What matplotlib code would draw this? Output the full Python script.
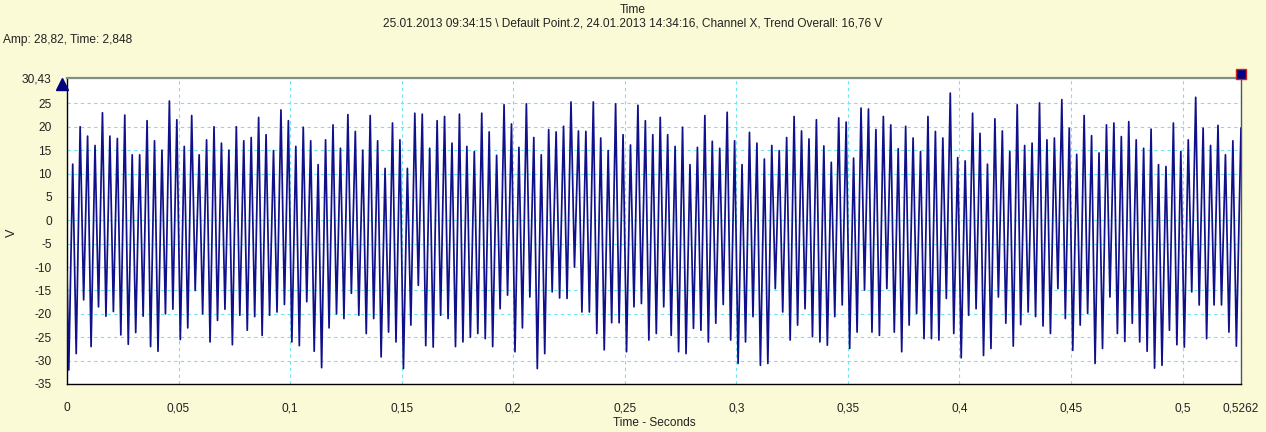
import numpy as np
import matplotlib
matplotlib.use("Agg")
import matplotlib.pyplot as plt

# ---------------- data ----------------
PERIOD_S = 1.0 / 300.0          # fundamental period of the waveform
FIRST_PEAK_T = 0.00256          # time of first positive peak (s)
TROUGH_PHASE = 0.47             # trough position within a cycle after a peak
START_V = -11.0                 # value at t = 0
END_V = 19.7                    # value at the right edge
T_END = 0.5262

peaks = [12, 20, 18, 16, 23, 18, 17.5, 22.5, 14, 14, 21.3, 17, 15, 25.5, 21.5, 15.8,
         22.4, 14, 17.2, 20, 16.5, 15, 20, 17, 17.7, 22, 18.3, 14.9, 23.6, 21.3, 15.8,
         19.9, 17, 11.9, 17.2, 20.4, 15.4, 22.6, 19, 15, 22.4, 17, 11.1, 20.8, 17.2,
         11.1, 22.9, 22.7, 15.4, 21.3, 22.2, 16.5, 22.7, 15.8, 14.7, 22.9, 18.9, 13.9,
         24.7, 20.6, 15.6, 24.9, 17.7, 14, 19.4, 18.9, 20.1, 25.3, 19.1, 19, 25.3, 17.6,
         14.9, 24.9, 18.3, 16.1, 24.6, 21.3, 18.3, 22, 18.3, 15.8, 19.9, 11.9, 15.6,
         22.4, 16.9, 15.4, 23.1, 17, 11.9, 18.8, 16.5, 13.1, 16, 14.9, 17.7, 22.2, 19.1,
         17.4, 21.5, 15.9, 12.4, 21.9, 21, 13.3, 24, 23.8, 19.4, 22.2, 20.4, 15.3, 20.1,
         17.6, 14.7, 22.2, 19, 17.6, 27.2, 13.4, 12.7, 22.9, 18.6, 12, 21.7, 19.1, 14.7,
         24.7, 16, 16.5, 25.1, 17.2, 17.6, 25.8, 19.7, 14.1, 22.4, 18.1, 14.4, 20.4,
         20.8, 17.9, 21.1, 17.2, 15.4, 19.5, 11.9, 11.5, 20.8, 14.7, 17.2, 26.3, 19.7,
         16, 20.3, 14, 17]

troughs = [-32, -28.5, -17, -27, -18.5, -20.5, -19.5, -24.5, -26.5, -24, -20.5, -27,
           -28, -20, -19, -25.5, -23, -15, -20, -26, -21.4, -19, -26.6, -20.3, -23.5,
           -20.6, -24.6, -20.3, -19.6, -18, -26, -26.8, -17.4, -28, -31.5, -23, -20,
           -21, -15.6, -20.3, -24.2, -21, -29.2, -23.9, -26, -31.7, -22.4, -13.9, -26.8,
           -27.1, -20.3, -21, -27, -26, -25, -24.2, -25.3, -27, -18.9, -16, -28.1, -23,
           -16.4, -31.7, -28.5, -15.3, -16.6, -16.7, -10, -19.6, -19.6, -24.2, -27.7,
           -21.9, -21.9, -28.1, -18.5, -17.8, -25.6, -24.2, -18.5, -24.6, -28.1, -28.5,
           -23.1, -23.5, -26, -22, -18, -25.6, -30.6, -26, -20.6, -31, -30.6, -14.6,
           -19.6, -25.6, -22.4, -18.9, -24.9, -26, -26.7, -20.6, -18.1, -27.4, -23.9,
           -14.9, -23.9, -24.6, -14.6, -23.9, -28.1, -22.4, -19.9, -25.3, -25.3, -25.6,
           -16.7, -24.2, -29.4, -20.3, -18.9, -28.9, -27.4, -16.4, -22, -26.9, -22.3,
           -19.6, -20.6, -22.6, -24.2, -14.6, -21, -27.8, -22.4, -19.9, -30.6, -27.4,
           -16.4, -24.2, -25.9, -22, -26, -28, -31.6, -31, -23.5, -26.6, -27.1, -15.3,
           -18.1, -25.3, -18.1, -18.1, -23.9, -26.9]

x_ticks = [0, 0.05, 0.1, 0.15, 0.2, 0.25, 0.3, 0.35, 0.4, 0.45, 0.5, 0.5262]
x_tick_labels = ["0", "0,05", "0,1", "0,15", "0,2", "0,25", "0,3", "0,35", "0,4",
                 "0,45", "0,5", "0,5262"]
y_ticks = [30.43, 25, 20, 15, 10, 5, 0, -5, -10, -15, -20, -25, -30, -35]
y_tick_labels = ["30,43", "25", "20", "15", "10", "5", "0", "-5", "-10", "-15",
                 "-20", "-25", "-30", "-35"]

title_1 = "Time"
title_2 = ("25.01.2013 09:34:15 \\ Default Point.2, 24.01.2013 14:34:16, "
           "Channel X, Trend Overall: 16,76 V")
cursor_text = "Amp: 28,82, Time: 2,848"
x_label = "Time - Seconds"
y_label = "V"

# ---------------- build the polyline ----------------
peak_t = FIRST_PEAK_T + np.arange(len(peaks)) * PERIOD_S
trough_t = FIRST_PEAK_T + (np.arange(len(troughs)) - 1 + TROUGH_PHASE) * PERIOD_S
t = [0.0, trough_t[0]]
v = [START_V, troughs[0]]
for i in range(len(peaks)):
    t += [peak_t[i], trough_t[i + 1]]
    v += [peaks[i], troughs[i + 1]]
t.append(T_END)
v.append(END_V)

# ---------------- figure ----------------
plt.rcParams["font.family"] = ["Liberation Sans", "DejaVu Sans"]
BG = "#FAFAD6"
TXT = "#222222"
FS = 8.6
W, H = 1266, 432
fig = plt.figure(figsize=(W / 100, H / 100), dpi=100, facecolor=BG)
ax = fig.add_axes([67 / W, 1 - 384 / H, (1241 - 67) / W, (384 - 78) / H])
ax.set_facecolor("white")

ax.plot(t, v, color="#10108a", lw=1.25, zorder=3)

ax.set_xlim(0, T_END)
ax.set_ylim(-35, 30.43)
ax.set_xticks(x_ticks)
ax.set_xticklabels(x_tick_labels)
ax.set_yticks(y_ticks)
ax.set_yticklabels(y_tick_labels)
ax.tick_params(axis="both", length=0, labelsize=FS, colors=TXT)
ax.tick_params(axis="x", pad=13)
ax.tick_params(axis="y", pad=11)
ax.grid(True, color="#70E4F2", lw=0.8, linestyle=(0, (3, 3)), zorder=1)

for s in ("left", "bottom"):
    ax.spines[s].set_color("black")
    ax.spines[s].set_linewidth(1.0)
ax.spines["top"].set_color("#7f8f8a")
ax.spines["top"].set_linewidth(1.6)
ax.spines["right"].set_color("#555555")
ax.spines["right"].set_linewidth(1.0)

fig.text(654 / W, 1 - 423 / H, x_label, ha="center", va="center", fontsize=FS, color=TXT)
fig.text(12 / W, 1 - 233 / H, y_label, ha="center", va="center", fontsize=FS + 0.5,
         rotation=90, color=TXT)

fig.text(0.5, 1 - 10 / H, title_1, ha="center", va="center", fontsize=FS, color=TXT)
fig.text(0.5, 1 - 24 / H, title_2, ha="center", va="center", fontsize=FS, color=TXT)
fig.text(3 / W, 1 - 40 / H, cursor_text, ha="left", va="center", fontsize=FS, color=TXT)

# cursor markers
fig.lines.append(plt.Line2D([61.7 / W], [1 - 84.3 / H], marker="^", markersize=8,
                            color="#000080", transform=fig.transFigure, lw=0))
fig.lines.append(plt.Line2D([1241 / W], [1 - 73.5 / H], marker="s", markersize=6.5,
                            markerfacecolor="#000080", markeredgecolor="#d02020",
                            markeredgewidth=1.0, transform=fig.transFigure, lw=0))

fig.savefig("out.png", dpi=100, facecolor=BG)
